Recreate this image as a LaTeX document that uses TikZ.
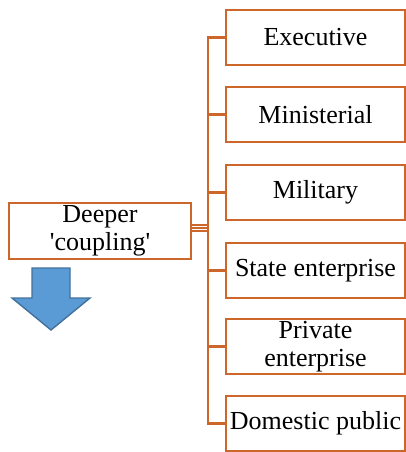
\documentclass[tikz,border=0pt]{standalone}
\usepackage{fontspec}
\setmainfont{Liberation Serif}
\definecolor{orgline}{RGB}{205,102,42}
\definecolor{arrfill}{RGB}{91,155,213}
\definecolor{arrdraw}{RGB}{65,113,156}
\newcommand{\sq}{\XeTeXglyph\XeTeXcharglyph"0027\relax}
\begin{document}
\begin{tikzpicture}[x=1pt,y=-1pt,
  box/.style={draw=orgline,line width=2.7pt,fill=white,minimum width=179pt,minimum height=55pt,
    inner sep=0pt,align=center,font=\fontsize{26}{27.5}\selectfont},
  conn/.style={draw=orgline,line width=2.7pt},
  thin/.style={draw=orgline,line width=1.8pt}]
\useasboundingbox (0,0) rectangle (406,452);
\node[box,minimum width=182pt,minimum height=56pt] (deep) at (100,231) {Deeper\\\sq coupling\sq};
\node[box] (b1) at (315.5,37.5) {Executive};
\node[box] (b2) at (315.5,114.5) {Ministerial};
\node[box] (b3) at (315.5,192.5) {Military};
\node[box] (b4) at (315.5,270.5) {State enterprise};
\node[box] (b5) at (315.5,346.5) {Private\\enterprise};
\node[box] (b6) at (315.5,423.5) {Domestic public};
\coordinate (ttop) at (208,37.5);
\coordinate (tbot) at (208,423.5);
\coordinate (tmid) at (208,228);
\draw[conn] (b1.west) -- (ttop) -- (tbot) -- (b6.west);
\foreach \i in {2,3,4,5}{\draw[conn] (b\i.west) -- (ttop |- b\i.west);}
\foreach \s in {-3,0,3}{\draw[thin] (deep.east |- tmid) ++(0,\s) -- ++(17,0);}
\draw[fill=arrfill,draw=arrdraw,line width=1.4pt,line join=miter]
  (32,268) -- (70,268) -- (70,298) -- (90,298) -- (51,330) -- (12,298) -- (32,298) -- cycle;
\end{tikzpicture}
\end{document}
